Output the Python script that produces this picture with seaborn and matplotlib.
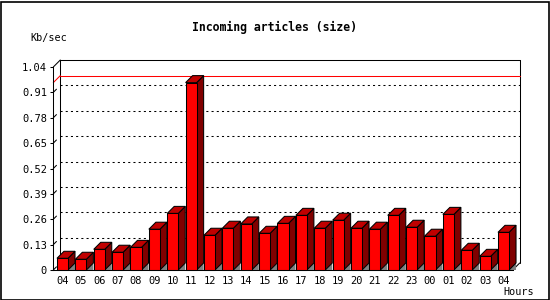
import numpy as np
import pandas as pd
import matplotlib
matplotlib.use("Agg")
import matplotlib.pyplot as plt
from matplotlib.patches import Polygon, Rectangle
import seaborn as sns

# ---- data ----
hours = ["04", "05", "06", "07", "08", "09", "10", "11", "12", "13", "14", "15", "16",
         "17", "18", "19", "20", "21", "22", "23", "00", "01", "02", "03", "04"]
values = [0.060, 0.055, 0.106, 0.091, 0.116, 0.209, 0.290, 0.960, 0.178, 0.214, 0.236,
          0.188, 0.239, 0.280, 0.214, 0.255, 0.214, 0.209, 0.280, 0.219, 0.173, 0.285,
          0.101, 0.070, 0.193]
ytick_vals = [0, 0.13, 0.26, 0.39, 0.52, 0.65, 0.78, 0.91, 1.04]
ytick_labels = ["0", "0.13", "0.26", "0.39", "0.52", "0.65", "0.78", "0.91", "1.04"]
title = "Incoming articles (size)"
ylabel = "Kb/sec"
xlabel = "Hours"

sns.set_theme(style="white")
plt.rcParams['font.family'] = ['DejaVu Sans Mono', 'DejaVu Sans']

W, H = 550, 300
fig = plt.figure(figsize=(5.5, 3.0), dpi=100)
fig.patch.set_facecolor("white")

# axes = front plane of the 3D chart (pixel coordinates of reference)
x0px, x1px = 53.3, 512.7
ytop, ybot = 67.0, 270.0
ax = fig.add_axes([x0px / W, 1 - ybot / H, (x1px - x0px) / W, (ybot - ytop) / H])
ax.set_facecolor((1, 1, 1, 0))

n = len(values)
df = pd.DataFrame({"slot": np.arange(n), "value": values})
sns.barplot(data=df, x="slot", y="value", color="#ff0000", saturation=1, width=0.6,
            edgecolor="black", linewidth=0.75, ax=ax, zorder=5)

ymax = 1.04
ax.set_xlim(-0.5, n - 0.5)
ax.set_ylim(0, ymax)

# depth offset (7 px right, 7 px up) in data units
px_x = (x1px - x0px) / n
px_y = (ybot - ytop) / ymax
DX = 7.0 / px_x
DY = 7.0 / px_y

lw = 0.75
# 3D faces for each bar
for p in list(ax.patches):
    bx = p.get_x(); bw = p.get_width(); bh = p.get_height()
    # floor triangle
    ax.add_patch(Polygon([(bx + bw, 0), (bx + bw + DX, DY), (bx + bw + DX, 0)], closed=True,
                         facecolor="#808080", edgecolor="none", zorder=3, clip_on=False))
    # side
    ax.add_patch(Polygon([(bx + bw, 0), (bx + bw, bh), (bx + bw + DX, bh + DY), (bx + bw + DX, DY)],
                         closed=True, facecolor="#800000", edgecolor="black", linewidth=lw,
                         zorder=4, clip_on=False))
    # top
    ax.add_patch(Polygon([(bx, bh), (bx + DX, bh + DY), (bx + bw + DX, bh + DY), (bx + bw, bh)],
                         closed=True, facecolor="#c00000", edgecolor="black", linewidth=lw,
                         zorder=4, clip_on=False))
    p.set_clip_on(False)

L, R = -0.5, n - 0.5
# back plane frame
ax.plot([L + DX, R + DX], [ymax + DY, ymax + DY], color="black", lw=lw, clip_on=False, zorder=2)
ax.plot([L + DX, L + DX], [DY, ymax + DY], color="black", lw=lw, clip_on=False, zorder=2)
ax.plot([R + DX, R + DX], [DY, ymax + DY], color="black", lw=lw, clip_on=False, zorder=2)
ax.plot([L, L + DX], [ymax, ymax + DY], color="black", lw=lw, clip_on=False, zorder=2)
ax.plot([R, R + DX], [0, DY], color="black", lw=lw, clip_on=False, zorder=2)

# dotted grid lines on back plane
for v in ytick_vals[1:-1]:
    ax.plot([L + DX, R + DX], [v + DY, v + DY], color="black", lw=lw,
            linestyle=(0, (2, 3)), clip_on=False, zorder=1)
for v in ytick_vals[:-1]:
    ax.plot([L, L + DX * 0.45], [v, v + DY * 0.45], color="black", lw=lw, clip_on=False, zorder=2)

# red max line
vmax = max(values)
ax.plot([L + DX, R + DX], [vmax + DY, vmax + DY], color="#ff0000", lw=lw, clip_on=False, zorder=2)
ax.plot([L, L + DX], [vmax, vmax + DY], color="#ff0000", lw=lw, clip_on=False, zorder=2)

# spines
for s in ["top", "right"]:
    ax.spines[s].set_visible(False)
for s in ["left", "bottom"]:
    ax.spines[s].set_color("black")
    ax.spines[s].set_linewidth(lw)
    ax.spines[s].set_zorder(6)

# ticks
ax.set_yticks(ytick_vals)
ax.set_yticklabels(ytick_labels)
ax.set_xticks(np.arange(n))
ax.set_xticklabels(hours)
ax.set_xticks(np.arange(n + 1) - 0.5, minor=True)
ax.tick_params(axis="x", which="major", length=0, pad=4, labelsize=7.5, colors="black")
ax.tick_params(axis="x", which="minor", length=2.5, width=lw, direction="out", color="black")
ax.tick_params(axis="y", which="major", length=2.5, width=lw, direction="out", pad=2,
               labelsize=7.5, colors="black", left=True)
ax.set_xlabel("")
ax.set_ylabel("")

# texts
fig.text(274 / W, 1 - 27.5 / H, title, ha="center", va="center", fontsize=8.3,
         fontweight="bold", color="black")
fig.text(30 / W, 1 - 38.5 / H, ylabel, ha="left", va="center", fontsize=7.3, color="black")
fig.text(534 / W, 1 - 292 / H, xlabel, ha="right", va="center", fontsize=7.3, color="black")

# outer border
fig.add_artist(Rectangle((0.5 / W, 0.5 / H), (W - 2) / W, (H - 2) / H, transform=fig.transFigure,
                         fill=False, edgecolor="black", linewidth=1.2))

fig.savefig("out.png", dpi=100, facecolor="white")
